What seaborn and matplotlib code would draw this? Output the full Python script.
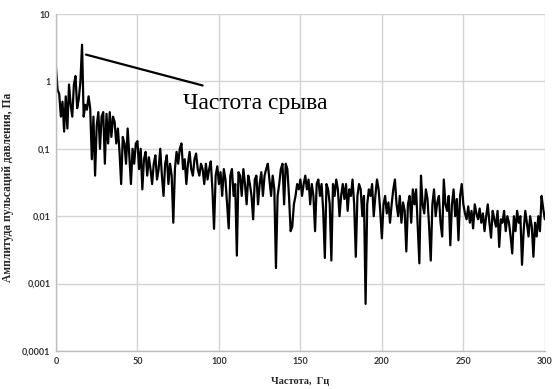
import numpy as np
import pandas as pd
import matplotlib
matplotlib.use("Agg")
import matplotlib.pyplot as plt
import seaborn as sns

# Frequency, Hz (1 Hz step) and pressure pulsation amplitude, Pa
freq = list(range(0, 301))
amp = [
    1.6, 0.75, 0.65, 0.3, 0.5, 0.18, 0.6, 0.2, 0.9, 0.45,
    0.3, 0.9, 1.2, 0.4, 0.55, 1.0, 3.5, 0.3, 0.45, 0.38,
    0.6, 0.4, 0.07, 0.3, 0.04, 0.22, 0.35, 0.1, 0.3, 0.35,
    0.06, 0.33, 0.12, 0.35, 0.15, 0.3, 0.25, 0.12, 0.2, 0.09,
    0.03, 0.15, 0.12, 0.06, 0.2, 0.08, 0.03, 0.1, 0.06, 0.12,
    0.13, 0.05, 0.1, 0.025, 0.07, 0.09, 0.04, 0.075, 0.05, 0.03,
    0.06, 0.08, 0.035, 0.05, 0.1, 0.04, 0.02, 0.06, 0.08, 0.03,
    0.06, 0.04, 0.008, 0.05, 0.09, 0.06, 0.1, 0.12, 0.05, 0.07,
    0.03, 0.06, 0.09, 0.05, 0.04, 0.07, 0.085, 0.05, 0.04, 0.06,
    0.05, 0.03, 0.06, 0.035, 0.05, 0.065, 0.025, 0.0065, 0.04, 0.055,
    0.03, 0.045, 0.02, 0.05, 0.035, 0.015, 0.0066, 0.04, 0.05, 0.02,
    0.03, 0.0026, 0.045, 0.04, 0.02, 0.05, 0.03, 0.015, 0.04, 0.03,
    0.02, 0.009, 0.035, 0.04, 0.015, 0.03, 0.045, 0.02, 0.04, 0.05,
    0.06, 0.035, 0.02, 0.04, 0.025, 0.0017, 0.02, 0.03, 0.05, 0.06,
    0.015, 0.06, 0.05, 0.02, 0.006, 0.007, 0.015, 0.02, 0.03, 0.025,
    0.035, 0.02, 0.03, 0.04, 0.025, 0.035, 0.015, 0.03, 0.02, 0.006,
    0.03, 0.035, 0.02, 0.03, 0.012, 0.0024, 0.03, 0.025, 0.015, 0.0022,
    0.03, 0.02, 0.035, 0.025, 0.01, 0.02, 0.03, 0.018, 0.03, 0.012,
    0.025, 0.02, 0.035, 0.015, 0.0025, 0.02, 0.03, 0.025, 0.01, 0.02,
    0.0005, 0.015, 0.025, 0.02, 0.03, 0.01, 0.02, 0.035, 0.025, 0.012,
    0.0047, 0.015, 0.02, 0.011, 0.016, 0.008, 0.015, 0.025, 0.035, 0.015,
    0.01, 0.02, 0.008, 0.016, 0.012, 0.003, 0.015, 0.02, 0.008, 0.025,
    0.015, 0.025, 0.007, 0.002, 0.04, 0.015, 0.011, 0.025, 0.018, 0.007,
    0.0022, 0.015, 0.025, 0.01, 0.016, 0.02, 0.008, 0.005, 0.035, 0.015,
    0.012, 0.02, 0.0037, 0.015, 0.025, 0.01, 0.018, 0.0044, 0.02, 0.03,
    0.015, 0.011, 0.009, 0.014, 0.008, 0.012, 0.0066, 0.015, 0.011, 0.009,
    0.013, 0.008, 0.011, 0.006, 0.01, 0.015, 0.008, 0.0048, 0.012, 0.009,
    0.007, 0.012, 0.0035, 0.009, 0.008, 0.012, 0.006, 0.01, 0.008, 0.005,
    0.0028, 0.01, 0.006, 0.012, 0.008, 0.01, 0.0019, 0.006, 0.012, 0.008,
    0.005, 0.01, 0.007, 0.0025, 0.008, 0.005, 0.01, 0.006, 0.02, 0.013,
    0.009,
]

y_ticks = [0.0001, 0.001, 0.01, 0.1, 1, 10]
y_tick_labels = ["0,0001", "0,001", "0,01", "0,1", "1", "10"]
x_ticks = [0, 50, 100, 150, 200, 250, 300]

annot_text = "Частота срыва"
annot_line_x = [18.4, 90]
annot_line_y = [2.5, 0.87]

df = pd.DataFrame({"f": freq, "a": amp})

sns.set_style("white")
fig = plt.figure(figsize=(5.52, 3.89), dpi=100)
ax = fig.add_axes([0.1014, 0.0977, 0.8856, 0.8663])

sns.lineplot(data=df, x="f", y="a", ax=ax, color="black", linewidth=1.6)
ax.set_yscale("log")
ax.set_ylim(0.0001, 10)
ax.set_xlim(0, 300)
ax.set_yticks(y_ticks)
ax.set_yticklabels(y_tick_labels)
ax.set_xticks(x_ticks)
ax.minorticks_off()
ax.grid(True, which="major", color="#d4d4d4", linewidth=1.0)
ax.set_axisbelow(True)
for s in ["top", "right"]:
    ax.spines[s].set_visible(False)
for s in ["left", "bottom"]:
    ax.spines[s].set_color("#bdbdbd")
    ax.spines[s].set_linewidth(1.0)
ax.tick_params(axis="both", length=0, labelsize=6.5, colors="#333333", pad=4)
for lbl in ax.get_xticklabels() + ax.get_yticklabels():
    lbl.set_family("Lato")
    lbl.set_fontweight("bold")

ax.set_xlabel("")
ax.set_ylabel("")

ax.plot(annot_line_x, annot_line_y, color="black", linewidth=1.6)
ax.text(77.9, 0.47, annot_text, fontsize=17, family="Liberation Serif",
        ha="left", va="center", color="black")

fig.text(0.5443, 0.018, "Частота,  Гц", ha="center", va="center",
         fontsize=7.5, fontweight="bold", family="Liberation Serif")
fig.text(0.0145, 0.518, "Амплитуда пульсаций давления, Па", ha="center", va="center",
         rotation=90, fontsize=8.3, fontweight="bold", family="Liberation Serif")

fig.savefig("out.png", dpi=100)
